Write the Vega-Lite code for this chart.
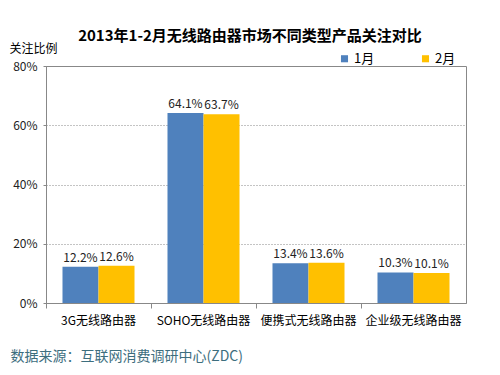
{
  "$schema": "https://vega.github.io/schema/vega-lite/v6.json",
  "width": 420,
  "height": 237,
  "autosize": "none",
  "padding": {"left": 46, "top": 66, "right": 34, "bottom": 72},
  "background": "white",
  "title": {
    "text": "2013年1-2月无线路由器市场不同类型产品关注对比",
    "font": "Noto Sans CJK SC",
    "fontSize": 15,
    "fontWeight": "bold",
    "color": "#000000",
    "anchor": "middle",
    "dx": -6,
    "dy": 3,
    "offset": 1
  },
  "data": {
    "values": [
      {"类型": "3G无线路由器", "月份": "1月", "值": 0.122},
      {"类型": "3G无线路由器", "月份": "2月", "值": 0.126},
      {"类型": "SOHO无线路由器", "月份": "1月", "值": 0.641},
      {"类型": "SOHO无线路由器", "月份": "2月", "值": 0.637},
      {"类型": "便携式无线路由器", "月份": "1月", "值": 0.134},
      {"类型": "便携式无线路由器", "月份": "2月", "值": 0.136},
      {"类型": "企业级无线路由器", "月份": "1月", "值": 0.103},
      {"类型": "企业级无线路由器", "月份": "2月", "值": 0.101}
    ]
  },
  "encoding": {
    "x": {
      "field": "类型",
      "type": "nominal",
      "sort": ["3G无线路由器", "SOHO无线路由器", "便携式无线路由器", "企业级无线路由器"],
      "scale": {"paddingInner": 0, "paddingOuter": 0},
      "axis": {
        "labelAngle": 0,
        "labelFont": "Noto Sans CJK SC",
        "labelFontSize": 12,
        "labelColor": "#000000",
        "labelPadding": 7,
        "domainColor": "#888888",
        "tickColor": "#888888",
        "tickSize": 5,
        "bandPosition": 0,
        "title": "数据来源：互联网消费调研中心(ZDC)",
        "titleFont": "Noto Sans CJK SC",
        "titleFontSize": 14,
        "titleFontWeight": "normal",
        "titleColor": "#3d6e7e",
        "titleAnchor": "start",
        "titleAlign": "left",
        "titleBaseline": "middle",
        "titleX": -36,
        "titleY": 53
      }
    },
    "xOffset": {
      "field": "月份",
      "sort": ["1月", "2月"],
      "scale": {"paddingInner": 0, "paddingOuter": 0.458}
    },
    "y": {
      "field": "值",
      "type": "quantitative",
      "scale": {"domain": [0, 0.8]},
      "axis": {
        "values": [0, 0.2, 0.4, 0.6, 0.8],
        "format": ".0%",
        "labelFont": "Noto Sans CJK SC",
        "labelFontSize": 12,
        "labelColor": "#222222",
        "labelPadding": 6,
        "domainColor": "#888888",
        "tickColor": "#888888",
        "tickSize": 3,
        "grid": true,
        "gridColor": "#888888",
        "gridDash": [1, 2],
        "title": "关注比例",
        "titleFont": "Noto Sans CJK SC",
        "titleFontSize": 12,
        "titleFontWeight": "normal",
        "titleColor": "#000000",
        "titleAngle": 0,
        "titleAlign": "left",
        "titleBaseline": "middle",
        "titleX": -37,
        "titleY": -18
      }
    }
  },
  "layer": [
    {
      "mark": {"type": "bar"},
      "encoding": {
        "color": {
          "field": "月份",
          "type": "nominal",
          "sort": ["1月", "2月"],
          "scale": {"domain": ["1月", "2月"], "range": ["#4F81BD", "#FFC000"]},
          "legend": {
            "title": null,
            "orient": "none",
            "direction": "horizontal",
            "legendX": 292,
            "legendY": -14,
            "symbolType": "square",
            "symbolSize": 50,
            "symbolStrokeWidth": 0,
            "labelFont": "Noto Sans CJK SC",
            "labelFontSize": 13,
            "labelColor": "#000000",
            "labelOffset": 3,
            "columnPadding": 44
          }
        }
      }
    },
    {
      "mark": {
        "type": "text",
        "dy": -9,
        "font": "Noto Sans CJK SC",
        "fontSize": 12,
        "color": "#222222"
      },
      "encoding": {
        "text": {"field": "值", "type": "quantitative", "format": ".1%"}
      }
    }
  ],
  "config": {
    "view": {"stroke": "#888888"}
  }
}
